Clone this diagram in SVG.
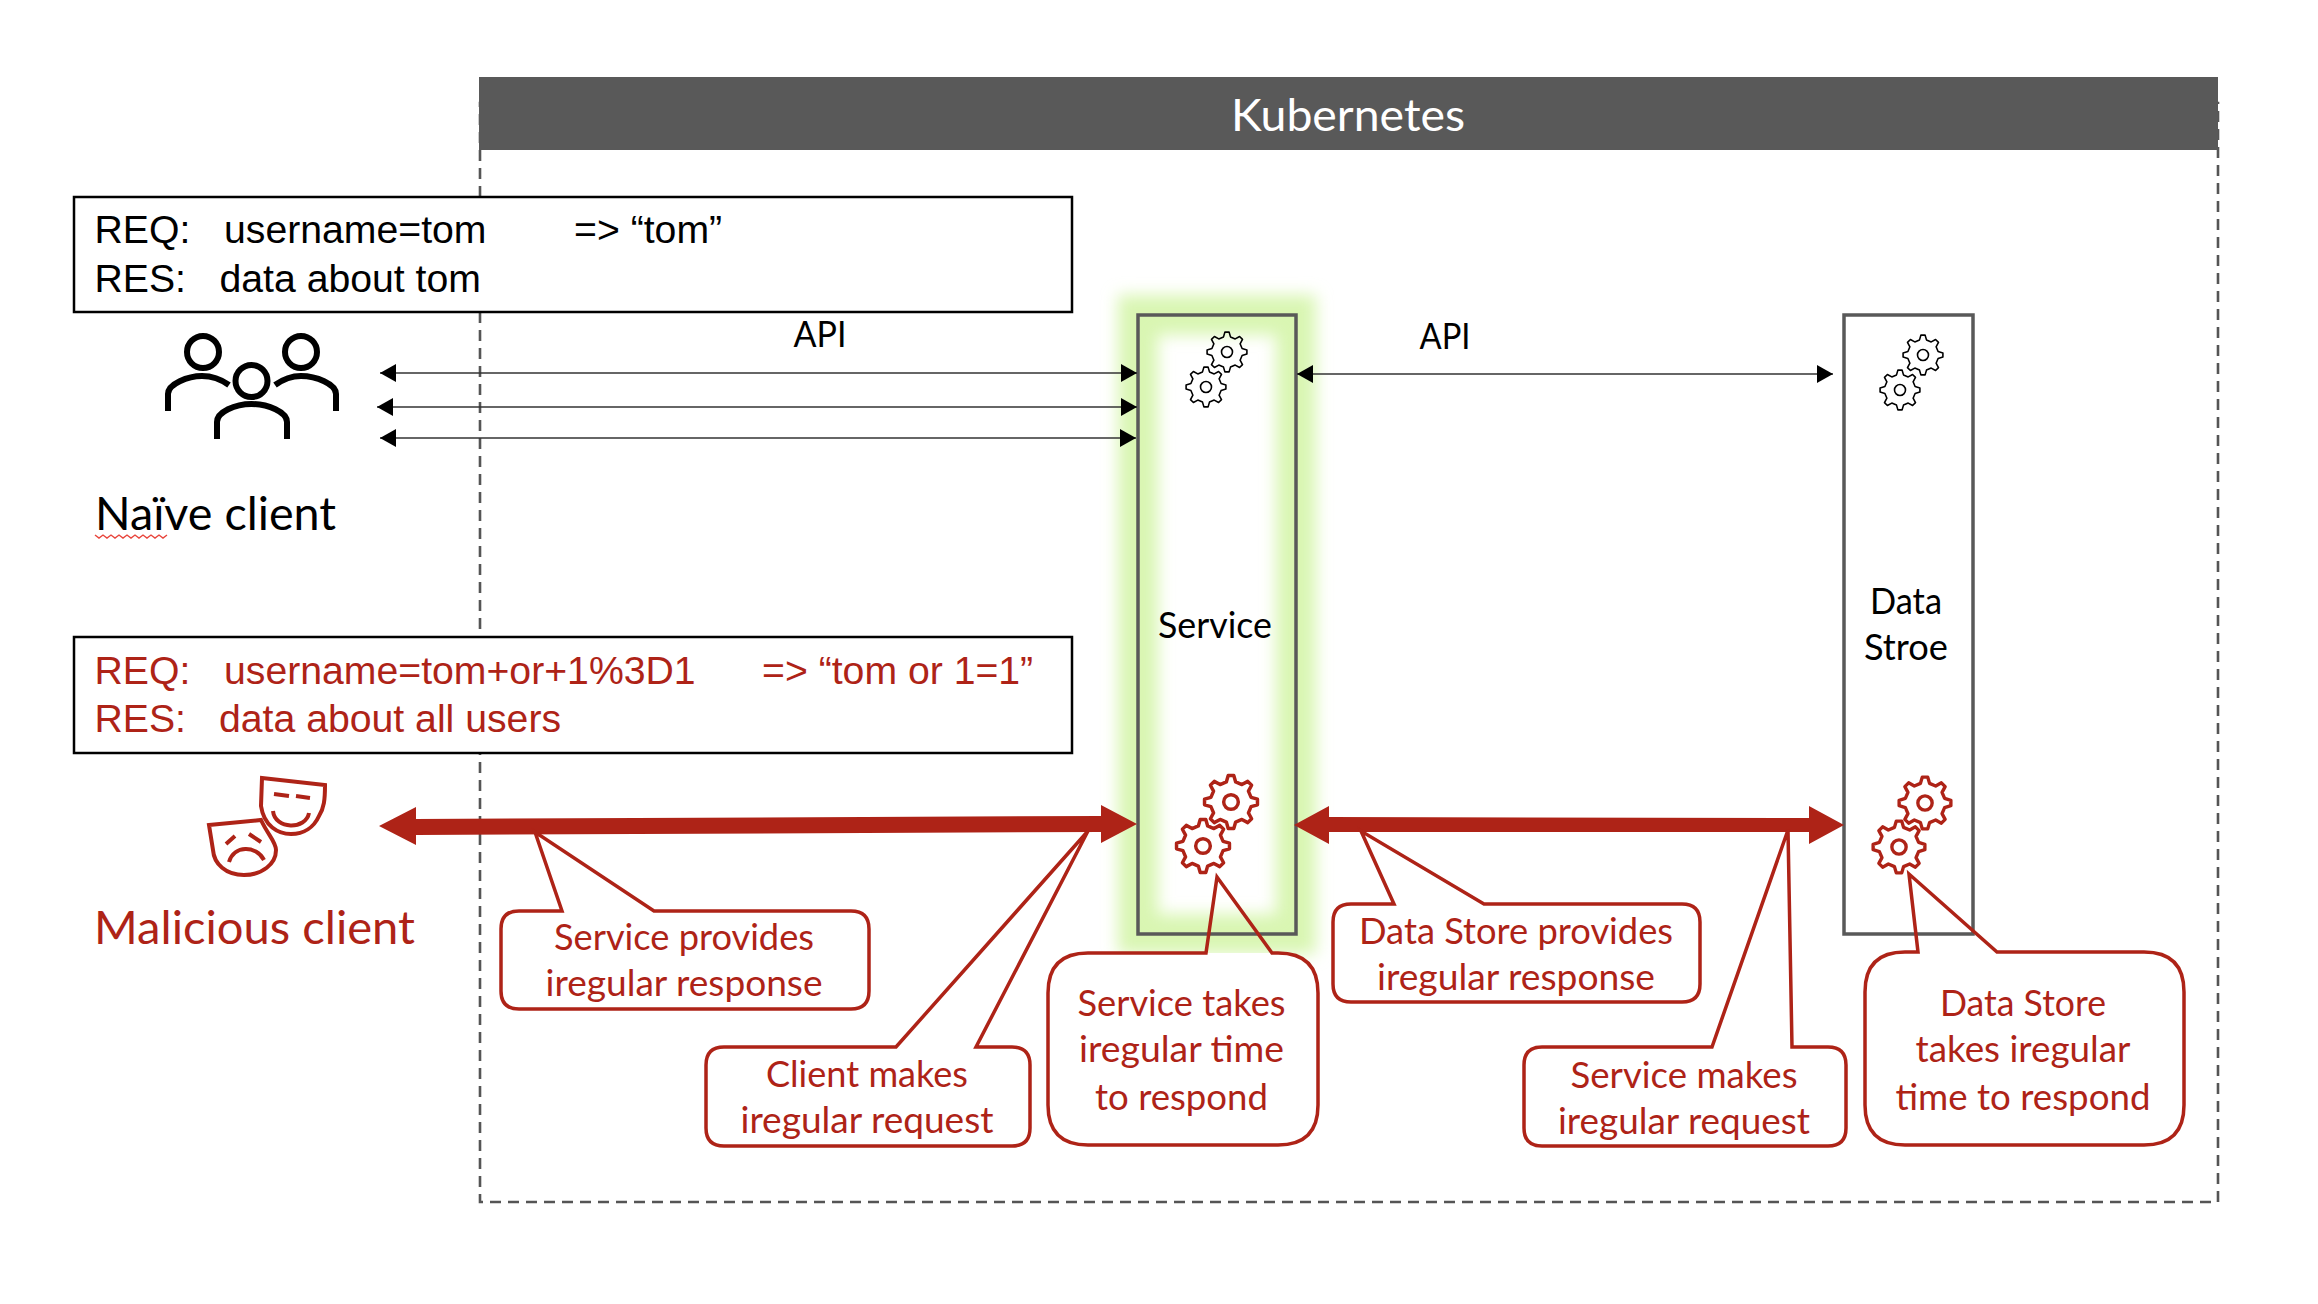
<svg xmlns="http://www.w3.org/2000/svg" width="2318" height="1304" viewBox="0 0 2318 1304">
<style>
.s{font-family:"Liberation Sans",Arial,sans-serif;font-size:39.2px}
.c{font-family:Lato,"Open Sans",sans-serif}
.m{text-anchor:middle}
.r{fill:#ae2317}
.k{fill:#000}
.co{font-size:37px}
.box{fill:#fff;stroke:#000;stroke-width:2.5}
.cf{fill:#fff}
.col{fill:none;stroke:#ae2317;stroke-width:3.5;stroke-linejoin:miter}
.thin{fill:none;stroke:#333;stroke-width:1.5}
.g{fill:none;stroke:#000;stroke-width:1.6;stroke-linejoin:round}
.gr{fill:none;stroke:#ae2317;stroke-width:2.6;stroke-linejoin:round}
.u{fill:none;stroke:#000;stroke-width:6}
.mk{fill:none;stroke:#ae2317;stroke-width:4}
.nd{fill:none;stroke:#595959;stroke-width:3.5}
</style>
<defs>
<filter id="blur" x="-50%" y="-20%" width="200%" height="140%"><feGaussianBlur stdDeviation="8"/></filter>
<marker id="ah" markerUnits="userSpaceOnUse" markerWidth="16" markerHeight="18" refX="16" refY="9" orient="auto-start-reverse"><path d="M0 0L16 9L0 18Z" fill="#000"/></marker>
<g id="gear"><path d="M15.1-3.5L19.9-2.1L19.9 2.1L15.1 3.5L13.1 8.2L15.5 12.6L12.6 15.5L8.2 13.1L3.5 15.1L2.1 19.9L-2.1 19.9L-3.5 15.1L-8.2 13.1L-12.6 15.5L-15.5 12.6L-13.1 8.2L-15.1 3.5L-19.9 2.1L-19.9-2.1L-15.1-3.5L-13.1-8.2L-15.5-12.6L-12.6-15.5L-8.2-13.1L-3.5-15.1L-2.1-19.9L2.1-19.9L3.5-15.1L8.2-13.1L12.6-15.5L15.5-12.6L13.1-8.2Z"/><circle r="5.5"/></g>
</defs>
<rect width="2318" height="1304" fill="#fff"/>
<g id="kubernetes">
<rect x="480" y="103" width="1738" height="1099" fill="none" stroke="#555" stroke-width="2.6" stroke-dasharray="11 7"/>
<rect x="479" y="77" width="1739" height="73" fill="#595959"/>
<text class="c m" x="1348" y="131" font-size="45" fill="#fff" textLength="234" lengthAdjust="spacingAndGlyphs">Kubernetes</text>
</g>
<g id="service">
<rect x="1138" y="315" width="158" height="619" fill="none" stroke="#d9f6b2" stroke-width="40" filter="url(#blur)"/>
<rect class="nd" x="1138" y="315" width="158" height="619"/>
<use href="#gear" class="g" x="1227" y="352"/>
<use href="#gear" class="g" x="1206" y="387"/>
<use href="#gear" class="gr" transform="translate(1231 802) scale(1.33)"/>
<use href="#gear" class="gr" transform="translate(1203 846) scale(1.33)"/>
<text class="c m k" x="1215" y="638" font-size="36" textLength="114" lengthAdjust="spacingAndGlyphs">Service</text>
</g>
<g id="datastore">
<rect class="nd" x="1844" y="315" width="129" height="619"/>
<use href="#gear" class="g" x="1923" y="355"/>
<use href="#gear" class="g" x="1900" y="390"/>
<use href="#gear" class="gr" transform="translate(1925 803) scale(1.3)"/>
<use href="#gear" class="gr" transform="translate(1899 847) scale(1.3)"/>
<text class="c m k" x="1906" y="614" font-size="36" textLength="72" lengthAdjust="spacingAndGlyphs">Data</text>
<text class="c m k" x="1906" y="660" font-size="36" textLength="84" lengthAdjust="spacingAndGlyphs">Stroe</text>
</g>
<g id="req-naive">
<rect class="box" x="74" y="197" width="998" height="115"/>
<text class="s k" x="94.5" y="243">REQ:</text><text class="s k" x="224" y="243">username=tom</text><text class="s k" x="574" y="243">=&gt; “tom”</text>
<text class="s k" x="94.5" y="292">RES:</text><text class="s k" x="219.5" y="292">data about tom</text>
</g>
<g id="req-malicious">
<rect class="box" x="74" y="637" width="998" height="116"/>
<text class="s r" x="94.5" y="684">REQ:</text><text class="s r" x="224" y="684">username=tom+or+1%3D1</text><text class="s r" x="762" y="684">=&gt; “tom or 1=1”</text>
<text class="s r" x="94.5" y="732">RES:</text><text class="s r" x="219" y="732">data about all users</text>
</g>
<g id="naive-client">
<g class="u"><circle cx="203" cy="352" r="16"/><circle cx="301" cy="352" r="16"/><circle cx="251.5" cy="381" r="16"/>
<path d="M168 411V394C168 384 188 376 202 376C213 376 222 380 229 385"/>
<path d="M336 411V394C336 384 316 376 301 376C290 376 282 380 275 385"/>
<path d="M217 439V422C217 412 235 404 251.5 404C268 404 287 412 287 422V439"/></g>
<text class="c k" x="95" y="529.5" font-size="47" textLength="241" lengthAdjust="spacingAndGlyphs">Naïve client</text>
<path d="M95 535l4 3l4-3l4 3l4-3l4 3l4-3l4 3l4-3l4 3l4-3l4 3l4-3l4 3l4-3l4 3l4-3l4 3l4-3" fill="none" stroke="#e8453c" stroke-width="1.4"/>
</g>
<g id="malicious-client">
<path class="mk" d="M262 778L325 785C325 800 324 808 319 816C314 827 304 834 291 834C278 834 264 826 261 806Z"/>
<path class="mk" d="M209 825L261 820C268 835 276 842 276 850C276 864 262 875 244 875C226 875 214 864 213 850Z" style="fill:#fff"/>
<path class="mk" d="M274 794L289 796M296 796L310 798M273 811C275 830 306 830 309 813M226 844L235 836M249 834L261 842M229 862C234 845 256 845 264 860"/>
<text class="c r" x="94" y="943.5" font-size="47" textLength="321" lengthAdjust="spacingAndGlyphs">Malicious client</text>
</g>
<g id="connectors">
<path class="thin" d="M380 373H1137" marker-start="url(#ah)" marker-end="url(#ah)"/>
<path class="thin" d="M377 407H1137" marker-start="url(#ah)" marker-end="url(#ah)"/>
<path class="thin" d="M380 438H1136" marker-start="url(#ah)" marker-end="url(#ah)"/>
<path class="thin" d="M1297 374H1833" marker-start="url(#ah)" marker-end="url(#ah)"/>
<path fill="#ae2317" d="M379 826L416 807V819L1101 816V805L1137 824L1101 843V832L416 835V845Z"/>
<path fill="#ae2317" d="M1294 825L1329 806V817L1809 818V806L1844 825L1809 844V832L1329 832V844Z"/>
</g>
<g id="api-labels">
<text class="c m k" x="820" y="347" font-size="36" textLength="53" lengthAdjust="spacingAndGlyphs">API</text>
<text class="c m k" x="1445" y="349" font-size="36" textLength="51" lengthAdjust="spacingAndGlyphs">API</text>
</g>
<g id="callout-service-response">
<rect class="cf" x="501" y="911" width="368" height="98" rx="18"/>
<path class="col" d="M519 911H562L535 832L654 911H851Q869 911 869 929V991Q869 1009 851 1009H519Q501 1009 501 991V929Q501 911 519 911Z"/>
<text class="c m r co" x="684" y="949.5" textLength="260" lengthAdjust="spacingAndGlyphs">Service provides</text>
<text class="c m r co" x="684" y="995.5" textLength="277" lengthAdjust="spacingAndGlyphs">iregular response</text>
</g>
<g id="callout-client-request">
<rect class="cf" x="706" y="1047" width="324" height="99" rx="18"/>
<path class="col" d="M724 1047H896L1088 831L976 1047H1012Q1030 1047 1030 1065V1128Q1030 1146 1012 1146H724Q706 1146 706 1128V1065Q706 1047 724 1047Z"/>
<text class="c m r co" x="867" y="1087" textLength="202" lengthAdjust="spacingAndGlyphs">Client makes</text>
<text class="c m r co" x="867" y="1132.5" textLength="253" lengthAdjust="spacingAndGlyphs">iregular request</text>
</g>
<g id="callout-service-time">
<rect class="cf" x="1048" y="953" width="270" height="192" rx="40"/>
<path class="col" d="M1088 953H1206L1217 877L1272 953H1278Q1318 953 1318 993V1105Q1318 1145 1278 1145H1088Q1048 1145 1048 1105V993Q1048 953 1088 953Z"/>
<text class="c m r co" x="1181.5" y="1015.5" textLength="208" lengthAdjust="spacingAndGlyphs">Service takes</text>
<text class="c m r co" x="1181.5" y="1061.5" textLength="205" lengthAdjust="spacingAndGlyphs">iregular time</text>
<text class="c m r co" x="1181.5" y="1109.5" textLength="173" lengthAdjust="spacingAndGlyphs">to respond</text>
</g>
<g id="callout-store-response">
<rect class="cf" x="1333" y="904" width="367" height="98" rx="18"/>
<path class="col" d="M1351 904H1394L1361 831L1484 904H1682Q1700 904 1700 922V984Q1700 1002 1682 1002H1351Q1333 1002 1333 984V922Q1333 904 1351 904Z"/>
<text class="c m r co" x="1516" y="943.5" textLength="314" lengthAdjust="spacingAndGlyphs">Data Store provides</text>
<text class="c m r co" x="1516" y="989.5" textLength="278" lengthAdjust="spacingAndGlyphs">iregular response</text>
</g>
<g id="callout-service-request">
<rect class="cf" x="1524" y="1047" width="322" height="99" rx="18"/>
<path class="col" d="M1542 1047H1712L1788 830L1792 1047H1828Q1846 1047 1846 1065V1128Q1846 1146 1828 1146H1542Q1524 1146 1524 1128V1065Q1524 1047 1542 1047Z"/>
<text class="c m r co" x="1684" y="1087.5" textLength="227" lengthAdjust="spacingAndGlyphs">Service makes</text>
<text class="c m r co" x="1684" y="1133.5" textLength="252" lengthAdjust="spacingAndGlyphs">iregular request</text>
</g>
<g id="callout-store-time">
<rect class="cf" x="1865" y="952" width="319" height="193" rx="40"/>
<path class="col" d="M1905 952H1918L1909 874L1997 952H2144Q2184 952 2184 992V1105Q2184 1145 2144 1145H1905Q1865 1145 1865 1105V992Q1865 952 1905 952Z"/>
<text class="c m r co" x="2023" y="1015.5" textLength="166" lengthAdjust="spacingAndGlyphs">Data Store</text>
<text class="c m r co" x="2023" y="1061.5" textLength="215" lengthAdjust="spacingAndGlyphs">takes iregular</text>
<text class="c m r co" x="2023" y="1109.5" textLength="255" lengthAdjust="spacingAndGlyphs">time to respond</text>
</g>
</svg>
